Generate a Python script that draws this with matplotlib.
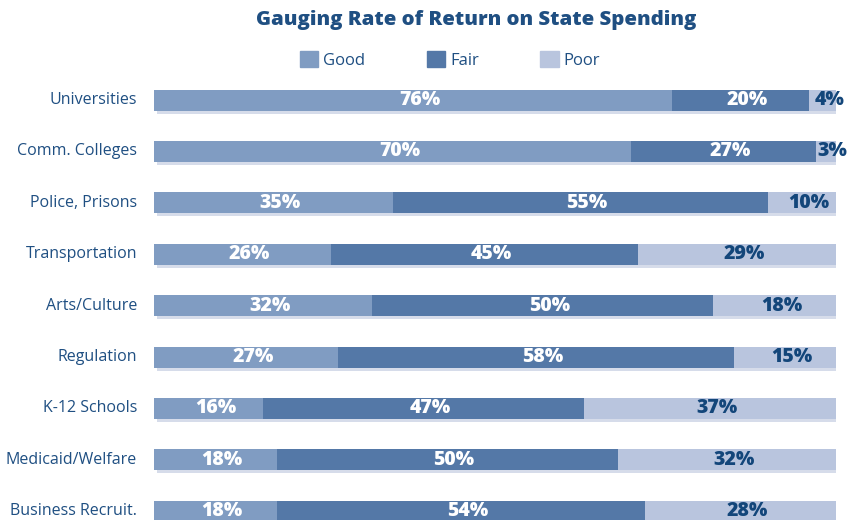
import matplotlib
matplotlib.use("Agg")
import matplotlib.pyplot as plt
from matplotlib.patches import Patch

categories = ["Universities", "Comm. Colleges", "Police, Prisons", "Transportation",
              "Arts/Culture", "Regulation", "K-12 Schools", "Medicaid/Welfare",
              "Business Recruit."]
good = [76, 70, 35, 26, 32, 27, 16, 18, 18]
fair = [20, 27, 55, 45, 50, 58, 47, 50, 54]
poor = [4, 3, 10, 29, 18, 15, 37, 32, 28]

c_good = "#809cc2"
c_fair = "#5478a7"
c_poor = "#b9c5de"
c_shadow = "#d6dcea"
navy = "#1f4f82"
lab_navy = "#13467a"

plt.rcParams['font.family'] = ['Open Sans', 'DejaVu Sans']

W, H = 866, 520
fig = plt.figure(figsize=(W / 100, H / 100), dpi=100)
# axes placed in pixels: x 154..836, y top 74.3 .. bottom 520
ax = fig.add_axes([154 / W, 0, (836 - 154) / W, (520 - 74.3) / H])
ax.set_xlim(0, 100)
ax.set_ylim(8.17, -0.5)
ax.axis("off")

ys = list(range(len(categories)))
bh = 21 / 51.4
dx = 3 / 6.82
dy = 3 / 51.4

totals = [g + f + p for g, f, p in zip(good, fair, poor)]
ax.barh([y + dy for y in ys], totals, left=dx, height=bh, color=c_shadow, zorder=1)
ax.barh(ys, good, height=bh, color=c_good, zorder=2)
left2 = good
ax.barh(ys, fair, left=left2, height=bh, color=c_fair, zorder=2)
left3 = [g + f for g, f in zip(good, fair)]
ax.barh(ys, poor, left=left3, height=bh, color=c_poor, zorder=2)

for y in ys:
    ax.text(good[y] / 2 + 1, y, f"{good[y]}%", ha="center", va="center",
            color="white", fontsize=14, fontweight="heavy", zorder=3)
    ax.text(left2[y] + fair[y] / 2 + 1, y, f"{fair[y]}%", ha="center", va="center",
            color="white", fontsize=14, fontweight="heavy", zorder=3)
    ax.text(left3[y] + poor[y] / 2 + 1, y, f"{poor[y]}%", ha="center", va="center",
            color=lab_navy, fontsize=14, fontweight="heavy", zorder=3)
    ax.text(-2.5, y, categories[y], ha="right", va="center", color=navy, fontsize=11.5)

fig.text(476 / W, 1 - 20 / H, "Gauging Rate of Return on State Spending", ha="center",
         va="center", color=navy, fontsize=14.7, fontweight="heavy")

handles = [Patch(color=c_good, label="Good"), Patch(color=c_fair, label="Fair"),
           Patch(color=c_poor, label="Poor")]
leg = fig.legend(handles=handles, loc="center", bbox_to_anchor=(450 / W, 1 - 60 / H), ncol=3,
                 frameon=False, fontsize=12, handlelength=1.1, handleheight=1.1,
                 handletextpad=0.3, columnspacing=3.7)
for t in leg.get_texts():
    t.set_color(navy)

fig.savefig("out.png", dpi=100)
